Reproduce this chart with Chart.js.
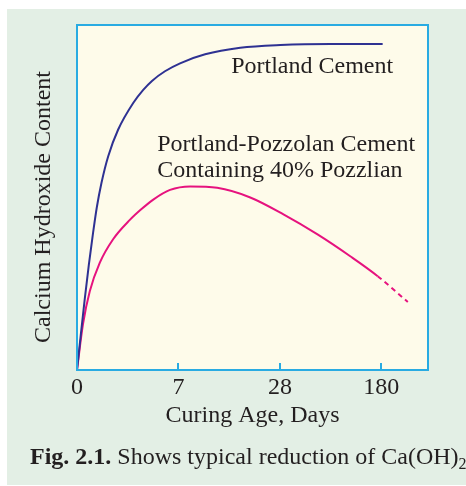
<!DOCTYPE html>
<html>
<head>
<meta charset="utf-8">
<script src="https://cdn.jsdelivr.net/npm/chart.js@4.4.1/dist/chart.umd.min.js"></script>
<style>
  html, body { margin: 0; padding: 0; background: #fff; overflow: hidden; width: 466px; height: 486px; }
  #bg { position: absolute; left: 7px; top: 9px; width: 459px; height: 476px; background: #e3efe5; }
  #wrap { position: absolute; left: 0; top: 0; width: 466px; height: 486px; }
  .serif { font-family: 'Liberation Serif', 'DejaVu Serif', serif; color: #231f20; font-size: 24px; }
  #ytitle { position: absolute; left: -108px; top: 192px; width: 300px; height: 30px; line-height: 30px;
            text-align: center; transform: rotate(-90deg); white-space: nowrap; }
  #caption { position: absolute; left: 30px; top: 444px; line-height: 24px; white-space: nowrap; }
  #caption sub { font-size: 16px; line-height: 0; vertical-align: -5px; }
</style>
</head>
<body>
<div id="bg"></div>
<div id="wrap"><canvas id="chart" width="466" height="486"></canvas></div>
<div id="ytitle" class="serif">Calcium Hydroxide Content</div>
<div id="caption" class="serif"><b>Fig. 2.1.</b> Shows typical reduction of Ca(OH)<sub>2</sub></div>
<script>
// x positions are in "tick steps": 0 -> 0 days, 1 -> 7, 2 -> 28, 3 -> 180
const TICK_POS = [0, 1, 2, 3];
const TICK_LABELS = ['0', '7', '28', '180'];

const portlandX = [0, 0.037, 0.076, 0.116, 0.155, 0.195, 0.241, 0.307, 0.406, 0.554, 0.653, 0.739, 0.867, 1.016, 1.263, 1.609, 2.005, 2.50, 3.013];
const portlandY = [0, 10.1, 20.5, 30.3, 39.0, 47.1, 54.2, 61.9, 69.7, 77.4, 81.2, 83.8, 86.6, 88.9, 91.5, 93.4, 94.2, 94.5, 94.5];

const pozzX = [0, 0.059, 0.126, 0.225, 0.356, 0.521, 0.630, 0.752, 0.917, 1.115, 1.382, 1.708, 2.035, 2.371, 2.697, 2.964, 3.261];
const pozzY = [0, 13.3, 22.8, 31.1, 37.9, 43.5, 46.5, 49.4, 52.2, 53.2, 52.8, 50.0, 45.1, 39.3, 32.9, 27.2, 19.7];

const LABELS = [
    { text: 'Portland Cement', x: 1.52, y: 86.0 },
    { text: 'Portland-Pozzolan Cement', x: 0.791, y: 63.6 },
    { text: 'Containing 40% Pozzlian', x: 0.791, y: 55.9 },
];

const C = { blue: '#2e3192', pink: '#e6127e', frame: '#29abe2', plot: '#fefbea', text: '#231f20' };
const SERIF = "'Liberation Serif', 'DejaVu Serif', serif";

const pts = (xs, ys) => xs.map((x, i) => ({ x: x, y: ys[i] }));

// cream plot background + frame + curve labels
const plotDeco = {
    id: 'plotDeco',
    beforeDraw(chart) {
        const a = chart.chartArea, ctx = chart.ctx;
        ctx.save();
        ctx.fillStyle = C.plot;
        ctx.fillRect(a.left, a.top, a.right - a.left, a.bottom - a.top);
        ctx.restore();
    },
    afterDraw(chart) {
        const a = chart.chartArea, ctx = chart.ctx;
        ctx.save();
        ctx.strokeStyle = C.frame;
        ctx.lineWidth = 2;
        ctx.strokeRect(a.left, a.top, a.right - a.left, a.bottom - a.top);
        ctx.fillStyle = C.text;
        ctx.font = '24px ' + SERIF;
        ctx.textBaseline = 'alphabetic';
        const xs = chart.scales.x, ys = chart.scales.y;
        LABELS.forEach(l => ctx.fillText(l.text, xs.getPixelForValue(l.x), ys.getPixelForValue(l.y)));
        ctx.restore();
    }
};

const lastSeg = pozzY.length - 1;

new Chart(document.getElementById('chart').getContext('2d'), {
    type: 'line',
    data: {
        datasets: [
            {
                label: 'Portland Cement',
                data: pts(portlandX, portlandY),
                borderColor: C.blue, borderWidth: 2, pointRadius: 0,
                cubicInterpolationMode: 'monotone', fill: false
            },
            {
                label: 'Portland-Pozzolan Cement',
                data: pts(pozzX, pozzY),
                borderColor: C.pink, borderWidth: 2, pointRadius: 0,
                cubicInterpolationMode: 'monotone', fill: false,
                segment: { borderDash: ctx => ctx.p1DataIndex === lastSeg ? [5, 4] : undefined }
            }
        ]
    },
    options: {
        responsive: false, animation: false,
        layout: { padding: { top: 25, right: 38, left: 0, bottom: 56 } },
        plugins: { legend: { display: false }, tooltip: { enabled: false } },
        scales: {
            x: {
                type: 'linear', min: 0, max: 3.46,
                afterBuildTicks: s => { s.ticks = TICK_POS.map(v => ({ value: v })); },
                afterFit: s => { s.height = 60; },
                border: { color: C.frame, width: 2 },
                grid: { drawOnChartArea: false, drawTicks: true, tickLength: -7, color: C.frame, lineWidth: 2 },
                ticks: {
                    padding: 10, color: C.text, maxRotation: 0, autoSkip: false,
                    font: { family: SERIF, size: 24 },
                    callback: (v, i) => TICK_LABELS[i]
                },
                title: { display: true, text: 'Curing Age, Days', color: C.text, padding: 0, font: { family: SERIF, size: 24 } }
            },
            y: {
                min: 0, max: 100,
                afterFit: s => { s.width = 77; },
                border: { color: C.frame, width: 2 },
                grid: { display: false },
                ticks: { display: false }
            }
        }
    },
    plugins: [plotDeco]
});
</script>
</body>
</html>
